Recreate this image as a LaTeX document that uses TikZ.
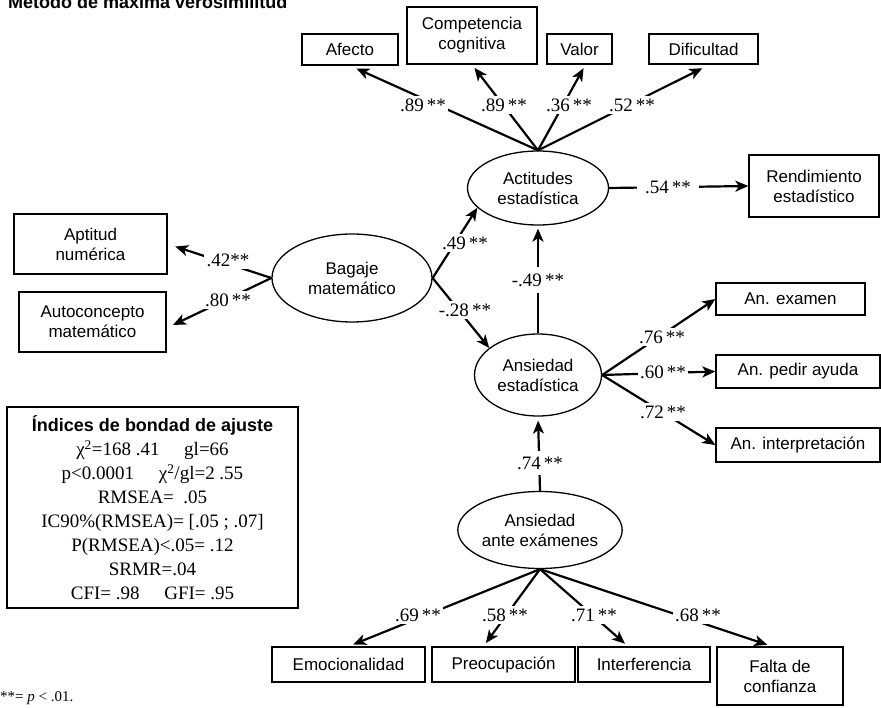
\documentclass[tikz,border=0pt]{standalone}
\usepackage{fontspec}
\setmainfont{Liberation Serif}
\newfontfamily\sansf{Liberation Sans}
\usetikzlibrary{arrows.meta,shapes.geometric}
\begin{document}
\begin{tikzpicture}[x=1pt,y=-1pt,
  box/.style={draw, line width=1.3pt, rectangle, inner sep=0pt, align=center, font=\sansf\fontsize{17}{20}\selectfont},
  lat/.style={draw, ellipse, line width=1.3pt, inner sep=0pt, align=center, font=\sansf\fontsize{17}{20}\selectfont},
  arr/.style={line width=2.2pt, -{Stealth[length=13pt,width=11pt,inset=3.5pt]}},
  coef/.style={fill=white, inner sep=2.5pt, font=\fontsize{19}{22}\selectfont}]
\useasboundingbox (0,0) rectangle (881,707);
\clip (0,0) rectangle (881,707);

% title and note
\node[anchor=base west, inner sep=0pt, font=\sansf\bfseries\fontsize{18}{20}\selectfont] (title) at (8,8) {Método de máxima verosimilitud};
\node[anchor=base west, inner sep=0pt, font=\fontsize{15}{17}\selectfont] (note) at (0,701) {**= \textit{p} < .01.};

% observed variables
\node[box, minimum width=96pt, minimum height=31pt] (afecto) at (350,49.5) {Afecto};
\node[box, minimum width=130pt, minimum height=57pt] (compet) at (472,35.5) {Competencia\\cognitiva};
\node[box, minimum width=65pt, minimum height=30pt] (valor) at (579.5,49) {Valor};
\node[box, minimum width=109pt, minimum height=30pt] (dific) at (703.5,49) {Dificultad};
\node[box, minimum width=130pt, minimum height=62pt] (rend) at (814,186) {Rendimiento\\estadístico};
\node[box, minimum width=153pt, minimum height=60pt] (aptitud) at (90.5,244) {Aptitud\\numérica};
\node[box, minimum width=147pt, minimum height=60pt] (autoc) at (92.5,322) {Autoconcepto\\matemático};
\node[box, minimum width=149pt, minimum height=32pt] (exam) at (790.5,299) {An. examen};
\node[box, minimum width=164pt, minimum height=33pt] (ayuda) at (798,371.5) {An. pedir ayuda};
\node[box, minimum width=164pt, minimum height=34pt] (interp) at (798,445) {An. interpretación};
\node[box, minimum width=153pt, minimum height=35pt] (emoc) at (348.5,664.5) {Emocionalidad};
\node[box, minimum width=143pt, minimum height=35pt] (preoc) at (503.5,664.5) {Preocupación};
\node[box, minimum width=132pt, minimum height=35pt] (interf) at (644,664.5) {Interferencia};
\node[box, minimum width=126pt, minimum height=58pt] (falta) at (780,676) {Falta de\\confianza};

% latent variables
\node[lat, minimum width=141pt, minimum height=74pt] (actit) at (538,188) {Actitudes\\estadística};
\node[lat, minimum width=160pt, minimum height=88pt] (bagaje) at (352,278) {Bagaje\\matemático};
\node[lat, minimum width=127pt, minimum height=82pt] (anses) at (538,375) {Ansiedad\\estadística};
\node[lat, minimum width=161pt, minimum height=77pt] (ansex) at (540,530) {Ansiedad\\ante exámenes};

% fit indices
\node[draw, line width=1.3pt, minimum width=291pt, minimum height=201pt, align=center, inner sep=0pt,
      font=\fontsize{19}{24}\selectfont] (stats) at (152.5,507.5)
  {{\sansf\bfseries\fontsize{18}{24}\selectfont Índices de bondad de ajuste}\\
   χ\textsuperscript{2}=168 .41\hspace{1.3em}gl=66\\
   p<0.0001\hspace{1.3em}χ\textsuperscript{2}/gl=2 .55\\
   RMSEA=\ \ .05\\
   IC90\%(RMSEA)= [.05 ; .07]\\
   P(RMSEA)<.05= .12\\
   SRMR=.04\\
   CFI= .98\hspace{1.3em}GFI= .95};

% connectors
\draw[arr, shorten >=7pt] (actit.north) -- (afecto.south);
\draw[arr, shorten >=4pt] (actit.north) -- (compet.south);
\draw[arr, shorten >=4pt] (actit.north) -- ([xshift=6pt]valor.south);
\draw[arr, shorten >=8pt] (actit.north) -- ([xshift=6pt]dific.south);
\draw[arr] (actit.east) -- (rend.west);
\draw[arr, shorten >=3pt] (anses.north) -- (actit.south);
\draw[arr] (bagaje.east) -- (actit.198);
\draw[arr] (bagaje.east) -- (anses.151);
\draw[arr, shorten >=8pt] (bagaje.west) -- (aptitud.east);
\draw[arr, shorten >=7pt] (bagaje.west) -- ([yshift=-6pt]autoc.east);
\draw[arr] (anses.east) -- (exam.west);
\draw[arr] (anses.east) -- (ayuda.west);
\draw[arr] (anses.east) -- (interp.west);
\draw[arr, shorten >=4pt] (ansex.north) -- (anses.south);
\draw[arr, shorten >=5pt] (ansex.south) -- (emoc.north);
\draw[arr, shorten >=4pt] (ansex.south) -- ([xshift=-20pt]preoc.north);
\draw[arr, shorten >=4pt] (ansex.south) -- ([xshift=-16pt]interf.north);
\draw[arr, shorten >=5pt] (ansex.south) -- ([xshift=-8pt]falta.north);

% coefficients
\node[coef] (c1) at (423,105) {.89\,**};
\node[coef] (c2) at (504,105) {.89\,**};
\node[coef] (c3) at (569,105) {.36\,**};
\node[coef] (c4) at (632,105) {.52\,**};
\node[coef, inner xsep=8pt] (c5) at (668,187) {.54\,**};
\node[coef] (c6) at (465,243) {.49\,**};
\node[coef] (c7) at (465,310) {-.28\,**};
\node[coef] (c8) at (228,260) {.42**};
\node[coef] (c9) at (228,300) {.80\,**};
\node[coef, inner ysep=7pt] (c10) at (538,280) {-.49\,**};
\node[coef] (c11) at (662,337) {.76\,**};
\node[coef] (c12) at (663,372) {.60\,**};
\node[coef] (c13) at (663,412) {.72\,**};
\node[coef, inner ysep=6pt] (c14) at (540,463) {.74\,**};
\node[coef] (c15) at (418,615) {.69\,**};
\node[coef] (c16) at (505,615) {.58\,**};
\node[coef] (c17) at (594,615) {.71\,**};
\node[coef] (c18) at (698,615) {.68\,**};
\end{tikzpicture}
\end{document}
